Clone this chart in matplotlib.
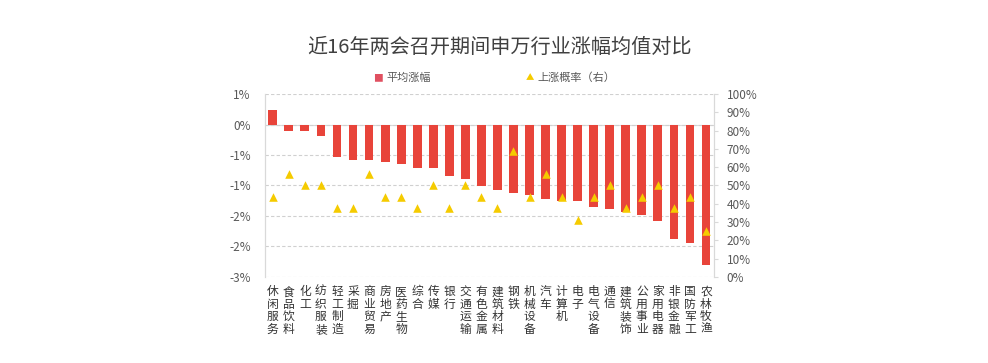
import matplotlib
matplotlib.use("Agg")
import matplotlib.pyplot as plt
import numpy as np
from matplotlib.ticker import FixedLocator, FuncFormatter

plt.rcParams['font.family'] = ['Noto Sans CJK SC', 'DejaVu Sans']

categories = ["休闲服务", "食品饮料", "化工", "纺织服装", "轻工制造", "采掘", "商业贸易",
              "房地产", "医药生物", "综合", "传媒", "银行", "交通运输", "有色金属",
              "建筑材料", "钢铁", "机械设备", "汽车", "计算机", "电子", "电气设备",
              "通信", "建筑装饰", "公用事业", "家用电器", "非银金融", "国防军工", "农林牧渔"]
avg_change = [0.24, -0.10, -0.10, -0.19, -0.53, -0.58, -0.59, -0.61, -0.65, -0.72,
              -0.72, -0.85, -0.90, -1.01, -1.07, -1.12, -1.15, -1.22, -1.26, -1.25,
              -1.36, -1.38, -1.44, -1.49, -1.59, -1.88, -1.94, -2.30]
up_prob = [43.75, 56.25, 50.0, 50.0, 37.5, 37.5, 56.25, 43.75, 43.75, 37.5,
           50.0, 37.5, 50.0, 43.75, 37.5, 68.75, 43.75, 56.25, 43.75, 31.25,
           43.75, 50.0, 37.5, 43.75, 50.0, 37.5, 43.75, 25.0]
left_ticks = [0.5, 0.0, -0.5, -1.0, -1.5, -2.0, -2.5]
right_ticks = list(range(0, 101, 10))

bar_color = '#E8443A'
tri_color = '#F5CB00'
grid_color = '#D0D0D0'
text_color = '#595959'

fig = plt.figure(figsize=(9.88, 3.63), dpi=100)
ax = fig.add_axes([0.268, 0.237, 0.4547, 0.504])
ax2 = ax.twinx()

x = np.arange(len(categories))
ax.bar(x, avg_change, width=0.55, color=bar_color, zorder=2)
ax2.scatter(x, up_prob, marker='^', s=38, color=tri_color, zorder=3, linewidths=0)

ax.set_xlim(-0.5, len(categories) - 0.5)
ax.set_ylim(-2.5, 0.5)
ax2.set_ylim(0, 100)

def round_half_away(v):
    r = np.floor(abs(v) + 0.5) * np.sign(v)
    return int(r)

ax.yaxis.set_major_locator(FixedLocator(left_ticks))
ax.yaxis.set_major_formatter(FuncFormatter(lambda v, p: f"{round_half_away(v)}%"))
ax2.yaxis.set_major_locator(FixedLocator(right_ticks))
ax2.yaxis.set_major_formatter(FuncFormatter(lambda v, p: f"{int(round(v))}%"))

ax.grid(axis='y', color=grid_color, linestyle=(0, (3, 2)), linewidth=0.8, zorder=0)
ax.axhline(0, color='#D9D9D9', linewidth=0.8, zorder=1)

for a in (ax, ax2):
    for s in ('top', 'bottom'):
        a.spines[s].set_visible(False)
    a.spines['left'].set_color('#D9D9D9')
    a.spines['right'].set_color('#D9D9D9')
ax.tick_params(axis='y', length=0, labelsize=8.5, labelcolor=text_color, pad=10)
ax2.tick_params(axis='y', length=3, color='#D9D9D9', labelsize=8.5, labelcolor=text_color, pad=6)

ax.set_xticks(x)
ax.set_xticklabels(["\n".join(c) for c in categories], fontsize=8.5, color='#333333',
                   linespacing=0.95, va='top')
ax.tick_params(axis='x', length=0, pad=6)

fig.text(0.506, 0.87, "近16年两会召开期间申万行业涨幅均值对比", ha='center', va='center',
         fontsize=14.5, color='#404040')

# legend
fig.text(0.3826, 0.785, "■", ha='center', va='center', fontsize=7, color='#E05060')
fig.text(0.391, 0.785, "平均涨幅", ha='left', va='center', fontsize=8, color=text_color)
fig.text(0.5365, 0.785, "▲", ha='center', va='center', fontsize=6, color=tri_color)
fig.text(0.544, 0.785, "上涨概率（右）", ha='left', va='center', fontsize=8, color=text_color)

fig.savefig("out.png", dpi=100, facecolor='white')
